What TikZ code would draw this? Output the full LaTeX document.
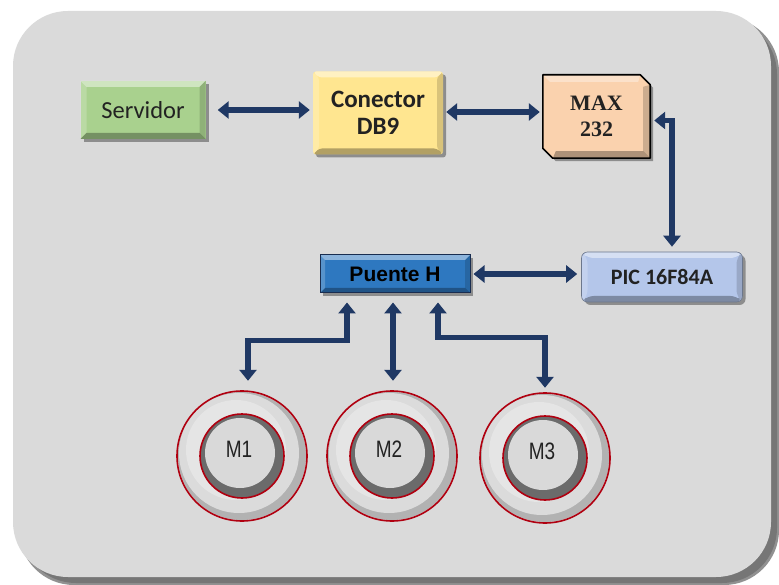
\documentclass[tikz,border=0pt]{standalone}
\usepackage{fontspec}
\setmainfont{Carlito}
\newfontfamily\arialf{Liberation Sans}
\newfontfamily\timesf{Liberation Serif}
\usetikzlibrary{arrows.meta,shadows,calc}

\definecolor{bgpanel}{HTML}{DADADA}
\definecolor{bgshadow}{HTML}{767676}
\definecolor{navy}{HTML}{1F3864}
\definecolor{srvgreen}{HTML}{A9D18E}
\definecolor{dbyellow}{HTML}{FFE690}
\definecolor{maxpeach}{HTML}{FAD2AE}
\definecolor{picblue}{HTML}{B4C6EA}
\definecolor{hblue}{HTML}{2E78C0}
\definecolor{motred}{HTML}{B00010}
\definecolor{txtdark}{HTML}{222222}

\tikzset{
  bevel/.style={path picture={
    \fill[white,opacity=0.45] (path picture bounding box.north west) -- (path picture bounding box.north east)
      -- ([shift={(-#1,-#1)}]path picture bounding box.north east) -- ([shift={(#1,-#1)}]path picture bounding box.north west) -- cycle;
    \fill[white,opacity=0.2] (path picture bounding box.north west) -- ([shift={(#1,-#1)}]path picture bounding box.north west)
      -- ([shift={(#1,#1)}]path picture bounding box.south west) -- (path picture bounding box.south west) -- cycle;
    \fill[black,opacity=0.15] (path picture bounding box.north east) -- ([shift={(-#1,-#1)}]path picture bounding box.north east)
      -- ([shift={(-#1,#1)}]path picture bounding box.south east) -- (path picture bounding box.south east) -- cycle;
    \fill[black,opacity=0.3] (path picture bounding box.south west) -- ([shift={(#1,#1)}]path picture bounding box.south west)
      -- ([shift={(-#1,#1)}]path picture bounding box.south east) -- (path picture bounding box.south east) -- cycle;
  }},
  blockbox/.style={rectangle, inner sep=0pt, align=center, text=txtdark,
    drop shadow={shadow xshift=3pt, shadow yshift=-3pt, opacity=0.35, fill=black},
    bevel=6pt},
  arr/.style={draw=navy, line width=5.5pt,
    {Triangle[width=17pt,length=11pt]}-{Triangle[width=17pt,length=11pt]}},
  motor/.style={circle, minimum size=130pt, inner sep=0pt},
}

\begin{document}
\begin{tikzpicture}[x=1pt,y=-1pt]
\useasboundingbox (0,0) rectangle (779,585);
\fill[white] (0,0) rectangle (779,585);
% panel
\fill[bgshadow!80, rounded corners=55pt] (19,17) rectangle (779,585);
\fill[bgshadow, rounded corners=55pt] (21,19) rectangle (777,583);
\fill[bgpanel, rounded corners=55pt] (13,11) rectangle (771,577);

% blocks
\node[blockbox, fill=srvgreen, minimum width=125pt, minimum height=58pt,
      font=\fontsize{24.5}{26}\selectfont] (srv) at (143,110) {Servidor};
\node[blockbox, fill=dbyellow, minimum width=130pt, minimum height=83pt,
      font=\bfseries\fontsize{25}{27}\selectfont, rounded corners=3pt] (db) at (378,113) {Conector\\DB9};
\node[rectangle, minimum width=107pt, minimum height=83pt, inner sep=0pt] (max) at (596.5,116.5) {};
\fill[black,opacity=0.35] ([shift={(3pt,-3pt)}]max.north west) -- ([shift={(-7pt,-3pt)}]max.north east)
  -- ([shift={(3pt,-13pt)}]max.north east) -- ([shift={(3pt,-3pt)}]max.south east)
  -- ([shift={(13pt,-3pt)}]max.south west) -- ([shift={(3pt,7pt)}]max.south west) -- cycle;
\fill[maxpeach] (max.north west) -- ([xshift=-10pt]max.north east) -- ([yshift=-10pt]max.north east)
  -- (max.south east) -- ([xshift=10pt]max.south west) -- ([yshift=10pt]max.south west) -- cycle;
\fill[black,opacity=0.18] ([yshift=-10pt]max.north east) -- (max.south east) -- ([shift={(-7pt,7pt)}]max.south east)
  -- ([shift={(-7pt,-12pt)}]max.north east) -- cycle;
\fill[black,opacity=0.3] (max.south east) -- ([xshift=10pt]max.south west) -- ([shift={(13pt,7pt)}]max.south west)
  -- ([shift={(-7pt,7pt)}]max.south east) -- cycle;
\fill[white,opacity=0.35] (max.north west) -- ([xshift=-10pt]max.north east) -- ([shift={(-12pt,-7pt)}]max.north east)
  -- ([shift={(7pt,-7pt)}]max.north west) -- cycle;
\draw[black, line width=1.6pt, line join=round] (max.north west) -- ([xshift=-10pt]max.north east) -- ([yshift=-10pt]max.north east)
  -- (max.south east) -- ([xshift=10pt]max.south west) -- ([yshift=10pt]max.south west) -- cycle;
\node[font=\timesf\bfseries\fontsize{22}{26}\selectfont, align=center, text=txtdark] at (max.center) {MAX\\232};

\node[blockbox, fill=picblue, minimum width=161pt, minimum height=50pt, rounded corners=6pt,
      font=\bfseries\fontsize{22}{24}\selectfont, draw=picblue!60!black, line width=0.6pt] (pic) at (662,277) {PIC 16F84A};
\node[blockbox, fill=hblue, minimum width=150pt, minimum height=38pt, bevel=5pt,
      draw=navy!80!black, line width=1pt, text=black,
      font=\arialf\bfseries\fontsize{21}{22}\selectfont] (ph) at (395,274) {Puente H};

% motors
\foreach \n/\cx/\cy/\lab in {m1/242/456/M1, m2/392/456/M2, m3/545/458/M3}{
  \node[motor] (\n) at (\cx,\cy) {};
  \fill[gray!60] (\n) circle[radius=64];
  \fill[gray!28] ([shift={(-3pt,3pt)}]\n.center) circle[radius=60];
  \fill[gray!15, opacity=0.6] ([shift={(-6pt,6pt)}]\n.center) circle[radius=50];
  \draw[motred, line width=1.6pt] (\n) circle[radius=65];
  \fill[gray!55!black!80] (\n) circle[radius=42];
  \fill[gray!30] ([shift={(-2pt,3pt)}]\n.center) circle[radius=35];
  \draw[motred, line width=1.6pt] (\n) circle[radius=42];
  \node[font=\arialf\fontsize{19}{22}\selectfont, text=txtdark] at ([shift={(-3pt,7pt)}]\n.center) {\scalebox{1}[1.25]{\lab}};
}

% connectors
\draw[arr, shorten >=3pt] ([xshift=12pt]srv.east) -- (srv.east -| db.west);
\draw[arr, shorten <=3pt, shorten >=3pt] ([yshift=1pt]db.east) -- ([yshift=1pt]db.east -| max.west);
\draw[arr, shorten <=4pt, shorten >=5pt] ([yshift=-4pt]max.east) -| ([xshift=10pt]pic.north);
\draw[arr, shorten <=3pt, shorten >=4pt] (ph.east) -- (ph.east -| pic.west);
\draw[arr, shorten >=10pt] ([shift={(-48pt,-9pt)}]ph.south) -- ++(0,38) -| ([xshift=6pt]m1.north);
\draw[arr, shorten >=10pt] ([shift={(-2pt,-9pt)}]ph.south) -- ([xshift=1pt]m2.north);
\draw[arr, shorten >=5pt] ([shift={(43pt,-9pt)}]ph.south) -- ++(0,35) -| (m3.north);
\end{tikzpicture}
\end{document}
